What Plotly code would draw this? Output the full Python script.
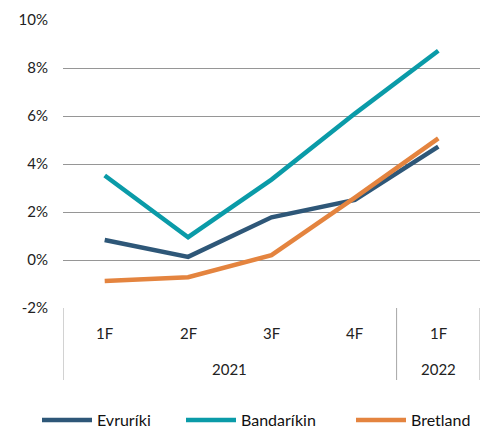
import plotly.graph_objects as go

quarters = ["1F", "2F", "3F", "4F", "1F"]
years = ["2021", "2022"]
year_spans = [(0, 3), (4, 4)]
evruriki = [0.83, 0.13, 1.78, 2.5, 4.72]
bandarikin = [3.52, 0.95, 3.35, 6.1, 8.72]
bretland = [-0.88, -0.72, 0.2, 2.6, 5.07]
y_ticks = [-2, 0, 2, 4, 6, 8, 10]

FONT = "Lato"
x = list(range(len(quarters)))

# page body has an 8px margin; size the figure to fill the rest of the window
OFF = 8
W, HT = 490 - OFF, 432 - OFF
L, R, T = 63 - OFF, 10, 20 - OFF
B = HT - (308 - OFF)
PW = W - L - R
H = HT - T - B

def py(pix):
    return (308 - pix) / H

def px(pix):
    return (pix - 63) / PW

series = [("Evruríki", evruriki, "#2E5778", 37),
          ("Bandaríkin", bandarikin, "#0A9BA8", 181),
          ("Bretland", bretland, "#E4843F", 351)]

fig = go.Figure()
legends = {}
for i, (name, vals, col, lx) in enumerate(series):
    lname = "legend" if i == 0 else f"legend{i+1}"
    fig.add_trace(go.Scatter(x=x, y=vals, mode="lines", name=name,
                             line=dict(color=col, width=4.5), legend=lname))
    legends[lname] = dict(orientation="h", x=px(lx), xanchor="left", y=py(420),
                          yanchor="middle", itemwidth=50,
                          bgcolor="rgba(0,0,0,0)",
                          font=dict(family=FONT, size=16, color="#111"))

shapes = []
for xv in [-0.5, 3.5, 4.5]:
    shapes.append(dict(type="line", xref="x", yref="paper", x0=xv, x1=xv,
                       y0=0, y1=py(380), line=dict(color="#A6A6A6", width=1)))

annotations = []
for i, q in enumerate(quarters):
    annotations.append(dict(x=i, y=py(333), xref="x", yref="paper", text=q,
                            showarrow=False, yanchor="middle",
                            font=dict(family=FONT, size=15, color="#222")))
for yr, (a, b) in zip(years, year_spans):
    annotations.append(dict(x=(a + b) / 2, y=py(369), xref="x", yref="paper", text=yr,
                            showarrow=False, yanchor="middle",
                            font=dict(family=FONT, size=15, color="#222")))

fig.update_layout(
    width=W, height=HT,
    margin=dict(l=L, r=R, t=T, b=B, autoexpand=False),
    plot_bgcolor="white", paper_bgcolor="white",
    font=dict(family=FONT, size=15, color="#222"),
    xaxis=dict(range=[-0.5, 4.5], showticklabels=False, showgrid=False,
               zeroline=False, showline=False, fixedrange=True, automargin=False),
    yaxis=dict(range=[-2, 10], tickvals=y_ticks,
               ticktext=[f"{v}%" for v in y_ticks],
               showgrid=True, gridcolor="#969696", gridwidth=1,
               zeroline=False, showline=False, ticks="",
               ticklabelstandoff=14, automargin=False),
    showlegend=True,
    shapes=shapes, annotations=annotations,
    **legends,
)
fig.write_html("out.html")
